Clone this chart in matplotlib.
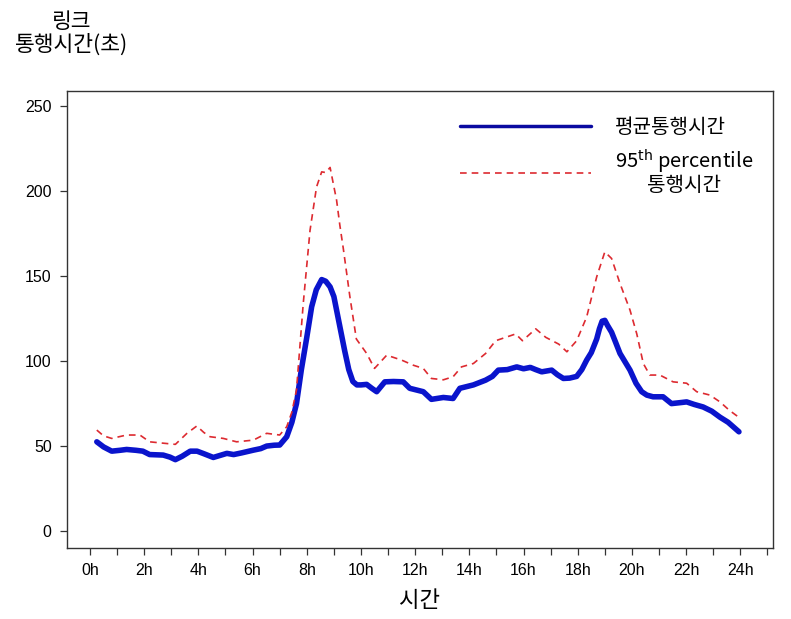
import matplotlib
matplotlib.use("Agg")
import matplotlib.pyplot as plt
from matplotlib.ticker import MultipleLocator

plt.rcParams['font.family'] = ['Liberation Sans', 'Noto Sans CJK KR', 'DejaVu Sans']

# 평균통행시간 (시간, 초)
mean_hour = [0.25, 0.5, 0.8, 1.1, 1.35, 1.7, 1.95, 2.2, 2.7, 2.95, 3.15, 3.4, 3.7, 3.95,
             4.2, 4.55, 4.8, 5.05, 5.3, 5.6, 6.03, 6.3, 6.52, 6.8, 7.0, 7.26, 7.45, 7.62,
             7.8, 8.0, 8.18, 8.35, 8.55, 8.7, 8.86, 9.0, 9.1, 9.25, 9.4, 9.55, 9.7, 9.85,
             10.0, 10.21, 10.4, 10.58, 10.88, 11.2, 11.56, 11.8, 12.05, 12.3, 12.6, 13.04,
             13.4, 13.65, 13.9, 14.15, 14.6, 14.85, 15.07, 15.4, 15.75, 16.0, 16.25, 16.45,
             16.67, 17.04, 17.25, 17.47, 17.7, 17.96, 18.15, 18.33, 18.5, 18.7, 18.8, 18.9,
             19.0, 19.1, 19.25, 19.4, 19.56, 19.93, 20.15, 20.36, 20.55, 20.78, 21.15,
             21.46, 21.75, 22.02, 22.3, 22.63, 22.95, 23.25, 23.55, 23.8, 23.95]
mean_time = [52.5, 49.5, 47, 47.5, 48, 47.5, 47, 45, 44.7, 43.5, 42, 44, 47, 47,
             45.5, 43.3, 44.5, 45.7, 45, 46, 47.6, 48.5, 50, 50.5, 50.6, 55.5, 64, 75,
             95, 114, 132, 142, 148, 147, 143.7, 138, 130, 118, 106, 95, 88, 86,
             86, 86.3, 84, 82, 87.8, 88, 87.8, 84, 83, 82, 77.5, 78.6,
             78, 84, 85, 86, 88.8, 91, 94.7, 95, 96.6, 95.5, 96.3, 95,
             93.7, 94.7, 92, 89.8, 90, 91, 95, 100.6, 105, 113, 119, 123.5,
             124, 121, 117, 111, 104.5, 94.7, 87, 82, 80, 79, 79,
             75, 75.5, 76, 74.5, 73, 70.5, 67, 64, 60.5, 58.4]

# 95th percentile 통행시간
p95_hour = [0.25, 0.5, 0.8, 1.35, 1.84, 2.2, 2.7, 3.15, 3.57, 3.94, 4.2, 4.43, 4.92, 5.41,
            6.03, 6.52, 7.0, 7.26, 7.45, 7.62, 7.87, 8.12, 8.36, 8.55, 8.7, 8.86, 9.1,
            9.22, 9.35, 9.59, 9.83, 10.21, 10.5, 10.95, 11.5, 11.93, 12.3, 12.6, 13.04,
            13.4, 13.71, 14.15, 14.6, 14.97, 15.34, 15.71, 15.96, 16.45, 16.82, 17.3, 17.6,
            17.96, 18.33, 18.7, 19.0, 19.25, 19.56, 19.93, 20.18, 20.42, 20.66, 21.03,
            21.52, 22.02, 22.39, 22.88, 23.25, 23.6, 23.94]
p95_time = [59.4, 56, 54.5, 56.5, 56.5, 52.5, 51.7, 51, 57.4, 61.8, 58, 55.5, 54.5, 52.5,
            53.5, 57.5, 56.5, 61.4, 70, 83, 134, 177, 202.5, 211.4, 211, 214, 194.7,
            180, 166, 138, 113, 104.5, 95.7, 103.5, 100.6, 97.6, 95.7, 89.8, 89,
            90.8, 96.6, 98.6, 104.5, 112, 114, 116, 112, 119, 114, 110, 105.5,
            112, 126, 149.6, 164.3, 160.4, 145.7, 130, 116, 98.6, 91.8, 91.8,
            87.8, 87, 82, 80, 76, 71, 67]

x_ticks = list(range(0, 25, 2))
x_labels = [f"{h}h" for h in x_ticks]
y_ticks = [0, 50, 100, 150, 200, 250]

fig = plt.figure(figsize=(7.91, 6.19), dpi=100)
ax = fig.add_axes([0.0847, 0.1147, 0.8923, 0.7383])

ax.plot(mean_hour, mean_time, color='#0a14cc', linewidth=4.0,
        solid_capstyle='round', solid_joinstyle='round', label='평균통행시간')
ax.plot(p95_hour, p95_time, color='#dd2a30', linewidth=1.2,
        linestyle=(0, (4, 3)), label='95$^{\\rm th}$ percentile\n통행시간')

ax.set_xlim(-0.85, 25.2)
ax.set_ylim(-10, 259)
ax.set_xticks(x_ticks)
ax.set_xticklabels(x_labels)
ax.xaxis.set_minor_locator(MultipleLocator(1))
ax.set_yticks(y_ticks)

ax.tick_params(axis='both', which='both', direction='out', length=5, width=0.9,
               color='#333333', labelsize=11.5, pad=6)
for s in ax.spines.values():
    s.set_color('#333333')
    s.set_linewidth(1.0)

ax.set_xlabel('시간', family=['Noto Sans CJK KR', 'DejaVu Sans'], fontsize=16, labelpad=8)
fig.text(0.09, 0.946, '링크\n통행시간(초)', ha='center', va='center',
         family=['Noto Sans CJK KR', 'DejaVu Sans'], fontsize=15.5, linespacing=1.0)

# 범례
leg = ax.legend(loc='upper left', bbox_to_anchor=(0.557, 0.944), frameon=False,
                borderpad=0, borderaxespad=0, handlelength=6.5, handletextpad=1.2,
                labelspacing=0.5, prop={'family': 'Noto Sans CJK KR', 'size': 14.5})
for t in leg.get_texts():
    t.set_multialignment('center')
    t.set_linespacing(0.95)
leg.get_lines()[0].set_linewidth(2.5)
leg.get_lines()[0].set_color('#0a0aa0')

fig.savefig('out.png', dpi=100)
